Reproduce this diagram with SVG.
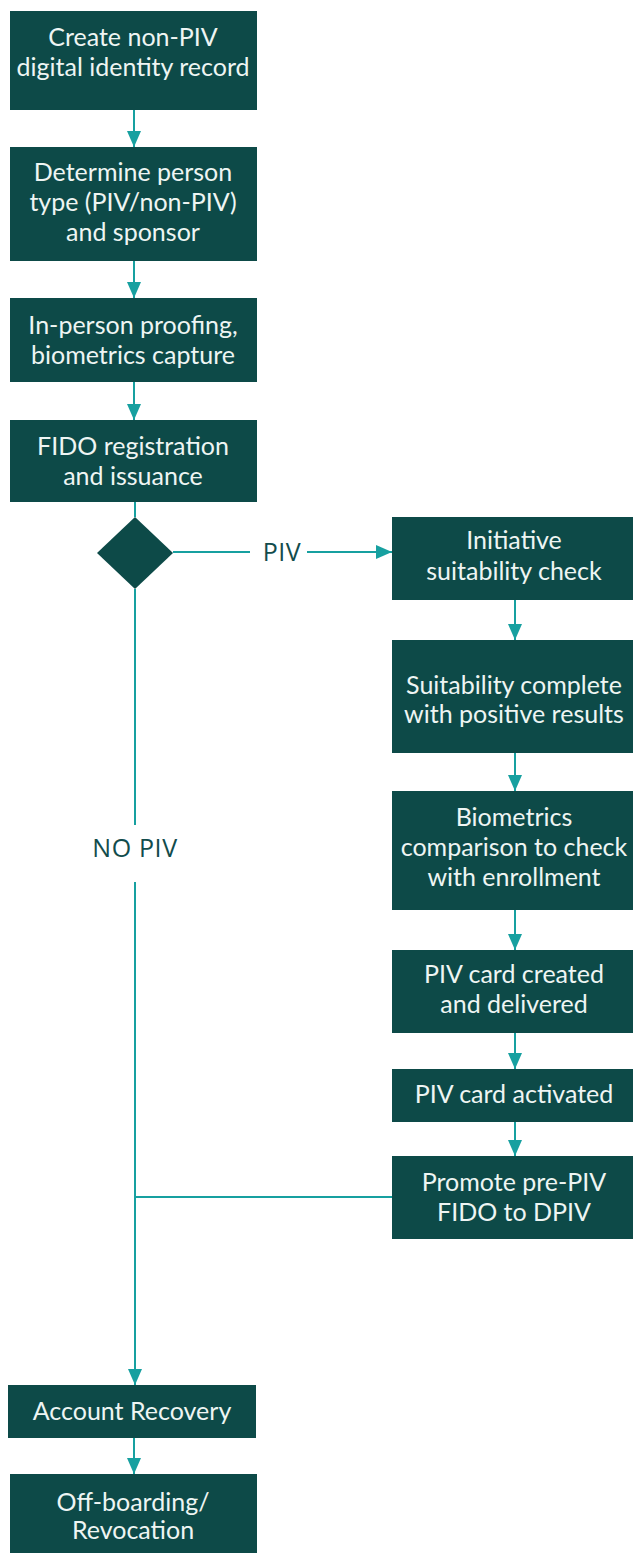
<svg xmlns="http://www.w3.org/2000/svg" width="633" height="1553" viewBox="0 0 633 1553">
<defs>
<style>
.box{fill:#0d4a48;}
.t{font-family:Lato,"Open Sans",sans-serif;font-size:25px;fill:#eef5f3;text-anchor:middle;}
.lbl{font-family:"Open Sans","Noto Sans",sans-serif;font-size:25px;letter-spacing:0.6px;fill:#124c4c;text-anchor:middle;}
.ln{stroke:#17a0a0;stroke-width:2;fill:none;}
</style>
<marker id="ah" viewBox="0 0 16 14" refX="16" refY="7" markerWidth="16" markerHeight="14" markerUnits="userSpaceOnUse" orient="auto">
<path d="M0,0 L16,7 L0,14 Z" fill="#17a0a0"/>
</marker>
</defs>
<rect width="633" height="1553" fill="#ffffff"/>
<g id="connectors">
<line class="ln" x1="134" y1="110" x2="134" y2="147" marker-end="url(#ah)"/>
<line class="ln" x1="134" y1="261" x2="134" y2="298" marker-end="url(#ah)"/>
<line class="ln" x1="134" y1="382" x2="134" y2="420" marker-end="url(#ah)"/>
<line class="ln" x1="135" y1="502" x2="135" y2="517"/>
<line class="ln" x1="173" y1="552" x2="250" y2="552"/>
<line class="ln" x1="307" y1="552" x2="392" y2="552" marker-end="url(#ah)"/>
<line class="ln" x1="135" y1="589" x2="135" y2="825"/>
<line class="ln" x1="135" y1="882" x2="135" y2="1385" marker-end="url(#ah)"/>
<line class="ln" x1="135" y1="1197" x2="392" y2="1197"/>
<line class="ln" x1="515" y1="600" x2="515" y2="640" marker-end="url(#ah)"/>
<line class="ln" x1="515" y1="753" x2="515" y2="791" marker-end="url(#ah)"/>
<line class="ln" x1="515" y1="910" x2="515" y2="950" marker-end="url(#ah)"/>
<line class="ln" x1="515" y1="1033" x2="515" y2="1069" marker-end="url(#ah)"/>
<line class="ln" x1="515" y1="1122" x2="515" y2="1156" marker-end="url(#ah)"/>
<line class="ln" x1="134" y1="1438" x2="134" y2="1474" marker-end="url(#ah)"/>
<text class="lbl" x="282" y="561">PIV</text>
<text class="lbl" x="135" y="857">NO PIV</text>
</g>
<g id="n1"><rect class="box" x="10" y="11" width="247" height="99"/>
<text class="t" x="133" y="46">Create non-PIV</text><text class="t" x="133" y="76">digital identity record</text></g>
<g id="n2"><rect class="box" x="10" y="147" width="247" height="114"/>
<text class="t" x="133" y="181">Determine person</text><text class="t" x="133" y="211">type (PIV/non-PIV)</text><text class="t" x="133" y="241">and sponsor</text></g>
<g id="n3"><rect class="box" x="10" y="298" width="247" height="84"/>
<text class="t" x="133" y="334">In-person proofing,</text><text class="t" x="133" y="364">biometrics capture</text></g>
<g id="n4"><rect class="box" x="10" y="420" width="247" height="82"/>
<text class="t" x="133" y="455">FIDO registration</text><text class="t" x="133" y="485">and issuance</text></g>
<g id="decision"><path class="box" d="M135,517 L173,553 L135,589 L97,553 Z"/></g>
<g id="r1"><rect class="box" x="392" y="517" width="245" height="83"/>
<text class="t" x="514" y="549">Initiative</text><text class="t" x="514" y="580">suitability check</text></g>
<g id="r2"><rect class="box" x="392" y="640" width="245" height="113"/>
<text class="t" x="514" y="694">Suitability complete</text><text class="t" x="514" y="723">with positive results</text></g>
<g id="r3"><rect class="box" x="392" y="791" width="245" height="119"/>
<text class="t" x="514" y="826">Biometrics</text><text class="t" x="514" y="856">comparison to check</text><text class="t" x="514" y="886">with enrollment</text></g>
<g id="r4"><rect class="box" x="392" y="950" width="245" height="83"/>
<text class="t" x="514" y="983">PIV card created</text><text class="t" x="514" y="1013">and delivered</text></g>
<g id="r5"><rect class="box" x="392" y="1069" width="245" height="53"/>
<text class="t" x="514" y="1103">PIV card activated</text></g>
<g id="r6"><rect class="box" x="392" y="1156" width="245" height="83"/>
<text class="t" x="514" y="1191">Promote pre-PIV</text><text class="t" x="514" y="1221">FIDO to DPIV</text></g>
<g id="n5"><rect class="box" x="8" y="1385" width="248" height="53"/>
<text class="t" x="132" y="1420">Account Recovery</text></g>
<g id="n6"><rect class="box" x="10" y="1474" width="247" height="85"/>
<text class="t" x="133" y="1511">Off-boarding/</text><text class="t" x="133" y="1539">Revocation</text></g>
</svg>
